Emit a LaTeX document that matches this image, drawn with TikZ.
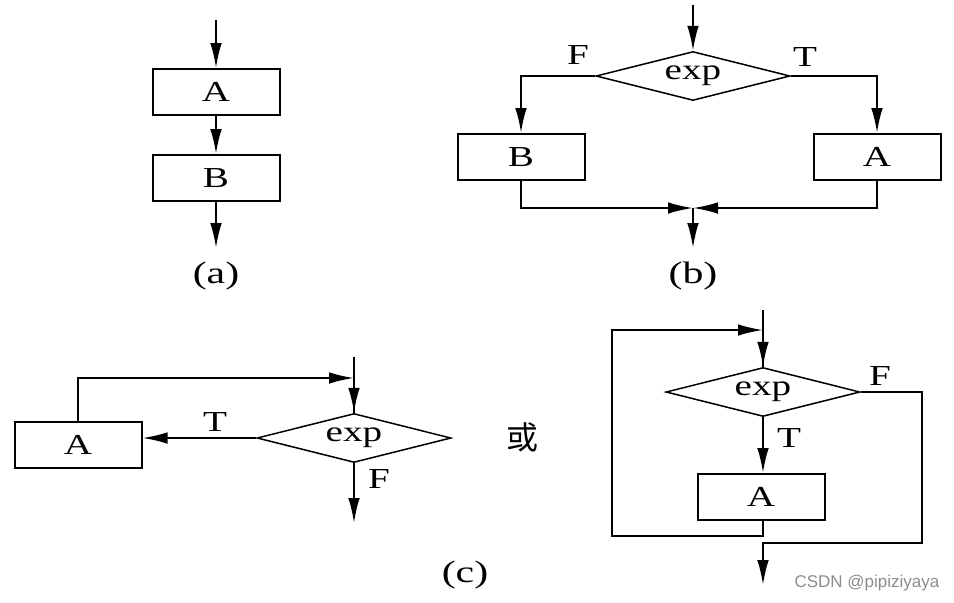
\documentclass[tikz,border=0pt]{standalone}
\usepackage{fontspec}
\setmainfont[FakeStretch=1.35]{Liberation Serif}
\newfontfamily\cjkfont{Noto Sans CJK SC}
\newfontfamily\markfont{Liberation Sans}
\usetikzlibrary{arrows.meta,shapes.geometric}

\begin{document}
\begin{tikzpicture}[
  x=0.5pt, y=-0.5pt,        % one unit = one pixel of the layout
  >={Latex[length=12.5pt,width=5.8pt]},
  box/.style={rectangle,draw,line width=1pt,minimum width=63.5pt,minimum height=23pt,inner sep=0pt},
  cond/.style={diamond,draw,aspect=5,line width=0.75pt,minimum width=97pt,minimum height=24.5pt,inner sep=0pt},
  flow/.style={->,line width=1pt},
  line/.style={line width=1pt},
  every node/.style={font=\fontsize{14.5}{16}\selectfont},
  caption/.style={font=\fontsize{15.5}{18}\selectfont}
]
\useasboundingbox (0,0) rectangle (954,602);

% --- (a) sequence
\coordinate (a0) at (216,20);
\node[box] (aA) at (216,92)  {A};
\node[box] (aB) at (216,178) {B};
\coordinate (a1) at (216,248);
\draw[flow] (a0) -- (aA);
\draw[flow] (aA) -- (aB);
\draw[flow] (aB) -- (a1);
\node[caption] (acap) at (216,276) {(a)};

% --- (b) selection
\coordinate (b0) at (693,5);
\node[cond] (bd) at (693,76) {exp};
\node[box] (bB) at (521,157) {B};
\node[box] (bA) at (877,157) {A};
\coordinate (bm) at (693,208);
\coordinate (b1) at (693,248);
\draw[flow] (b0) -- (bd);
\draw[flow] (bd.west) -| (bB);
\draw[flow] (bd.east) -| (bA);
\draw[flow] (bB) |- (bm);
\draw[flow] (bA) |- (bm);
\draw[flow] (bm) -- (b1);
\node (bF) at (578,55) {F};
\node (bT) at (805,57) {T};
\node[caption] (bcap) at (693,276) {(b)};

% --- (c) loop, test first
\coordinate (c0) at (354,357);
\coordinate (cm) at (354,378);
\node[cond] (cd) at (354,438) {exp};
\node[box] (cA) at (78,445) {A};
\coordinate (c1) at (354,523);
\draw[line] (c0) -- (cd.north);
\draw[flow] (cm) -- (cd.north);
\draw[flow] (cA.north) |- (cm);
\draw[flow] (cd.west) -- (cd.west -| cA.east);
\draw[flow] (cd.south) -- (c1);
\node (cT) at (215,422) {T};
\node (cF) at (379,479) {F};
\node (cor) at (522,437) {\cjkfont\fontsize{16}{18}\selectfont 或};
\node[caption] (ccap) at (465,575) {(c)};

% --- (c) second form
\coordinate (dt) at (763,310);
\coordinate (dm) at (763,330);
\node[cond] (dd) at (763,392) {exp};
\node[box] (dA) at (761,497) {A};
\coordinate (dlb) at (612,536);
\coordinate (dfr) at (922,543);
\coordinate (dout) at (763,585);
\draw[line] (dt) -- (dd.north);
\draw[flow] (dm) -- (dd.north);
\draw[flow] (dd.south) -- (dA.north -| dd.south);
\draw[flow] (dA.south -| dd.south) |- (dlb) |- (dm);
\draw[flow] (dd.east) -| (dfr) -| (dout);
\node (dT) at (789,438) {T};
\node (dF) at (880,376) {F};

\node[font=\markfont\fontsize{8.5}{10}\selectfont,text=black!45] (mark) at (867,583) {CSDN @pipiziyaya};
\end{tikzpicture}
\end{document}
